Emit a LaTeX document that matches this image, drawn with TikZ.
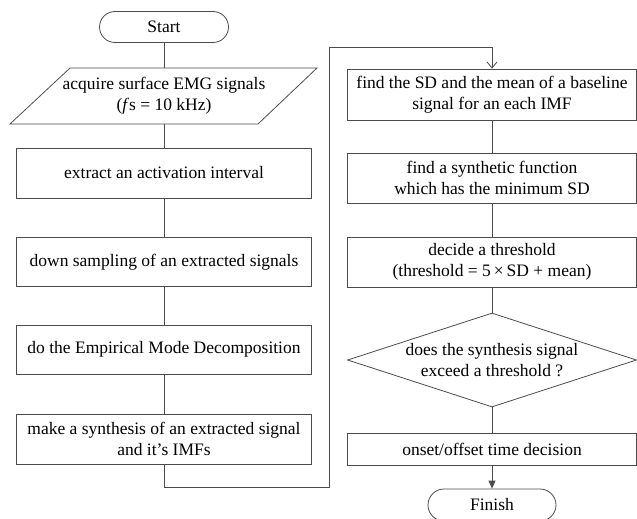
\documentclass[tikz,border=0pt]{standalone}
\usepackage{fontspec}
\setmainfont{Liberation Serif}
\usetikzlibrary{shapes.geometric,shapes.misc,arrows.meta}

\begin{document}
\begin{tikzpicture}[x=1pt,y=-1pt,font=\fontsize{17.5}{21}\selectfont,
  flowline/.style={draw=black!70,line width=0.8pt},
  proc/.style={flowline,rectangle,align=center,inner sep=0pt,minimum width=295,minimum height=50},
  rproc/.style={proc,minimum width=289},
  term/.style={flowline,rounded rectangle,inner sep=0pt,minimum width=129,minimum height=31},
  decide/.style={flowline,diamond,inner sep=0pt,minimum width=289,minimum height=94},
  txt/.style={align=center,inner sep=0pt}]
\useasboundingbox (0,0) rectangle (637,519);

\node[term] (start) at (164,27) {Start};
\draw[flowline] (10,124) -- (70,68) -- (317,68) -- (258,124) -- cycle;
\coordinate (acqtop) at (164,68);
\coordinate (acqbot) at (164,124);
\node[txt] (acq) at (164,96) {acquire surface EMG signals\\(\textit{f}s = 10 kHz)};
\node[proc] (ext) at (164,173) {extract an activation interval};
\node[proc,minimum height=49] (down) at (164,262) {down sampling of an extracted signals};
\node[proc,minimum height=49] (emd) at (164,349.5) {do the Empirical Mode Decomposition};
\node[proc] (syn) at (164,439) {make a synthesis of an extracted signal\\and it's IMFs};

\node[rproc,minimum height=51] (sd) at (492,94.5) {find the SD and the mean of a baseline\\signal for an each IMF};
\node[rproc] (fun) at (492,178) {find a synthetic function\\which has the minimum SD};
\node[rproc] (thr) at (492,262) {decide a threshold\\(threshold = 5\,×\,SD + mean)};
\node[decide] (dec) at (492,360) {};
\node[txt] (dectxt) at (dec) {does the synthesis signal\\exceed a threshold ?};
\node[rproc,minimum height=32] (onset) at (492,449) {onset/offset time decision};
\node[term,minimum width=128,minimum height=32] (finish) at (492,505) {Finish};

\coordinate (bl) at (329,487);
\coordinate (tl) at (329,47);

\draw[flowline] (start) -- (acqtop);
\draw[flowline] (acqbot) -- (ext);
\draw[flowline] (ext) -- (down);
\draw[flowline] (down) -- (emd);
\draw[flowline] (emd) -- (syn);
\draw[flowline,-{Straight Barb[length=6pt,width=10pt]}] (syn.south) |- (bl) -- (tl) -| (sd.north);
\draw[flowline] (sd) -- (fun);
\draw[flowline] (fun) -- (thr);
\draw[flowline] (thr) -- (dec);
\draw[flowline] (dec) -- (onset);
\draw[flowline,-{Triangle[length=8pt,width=7pt]}] (onset) -- (finish);
\end{tikzpicture}
\end{document}
